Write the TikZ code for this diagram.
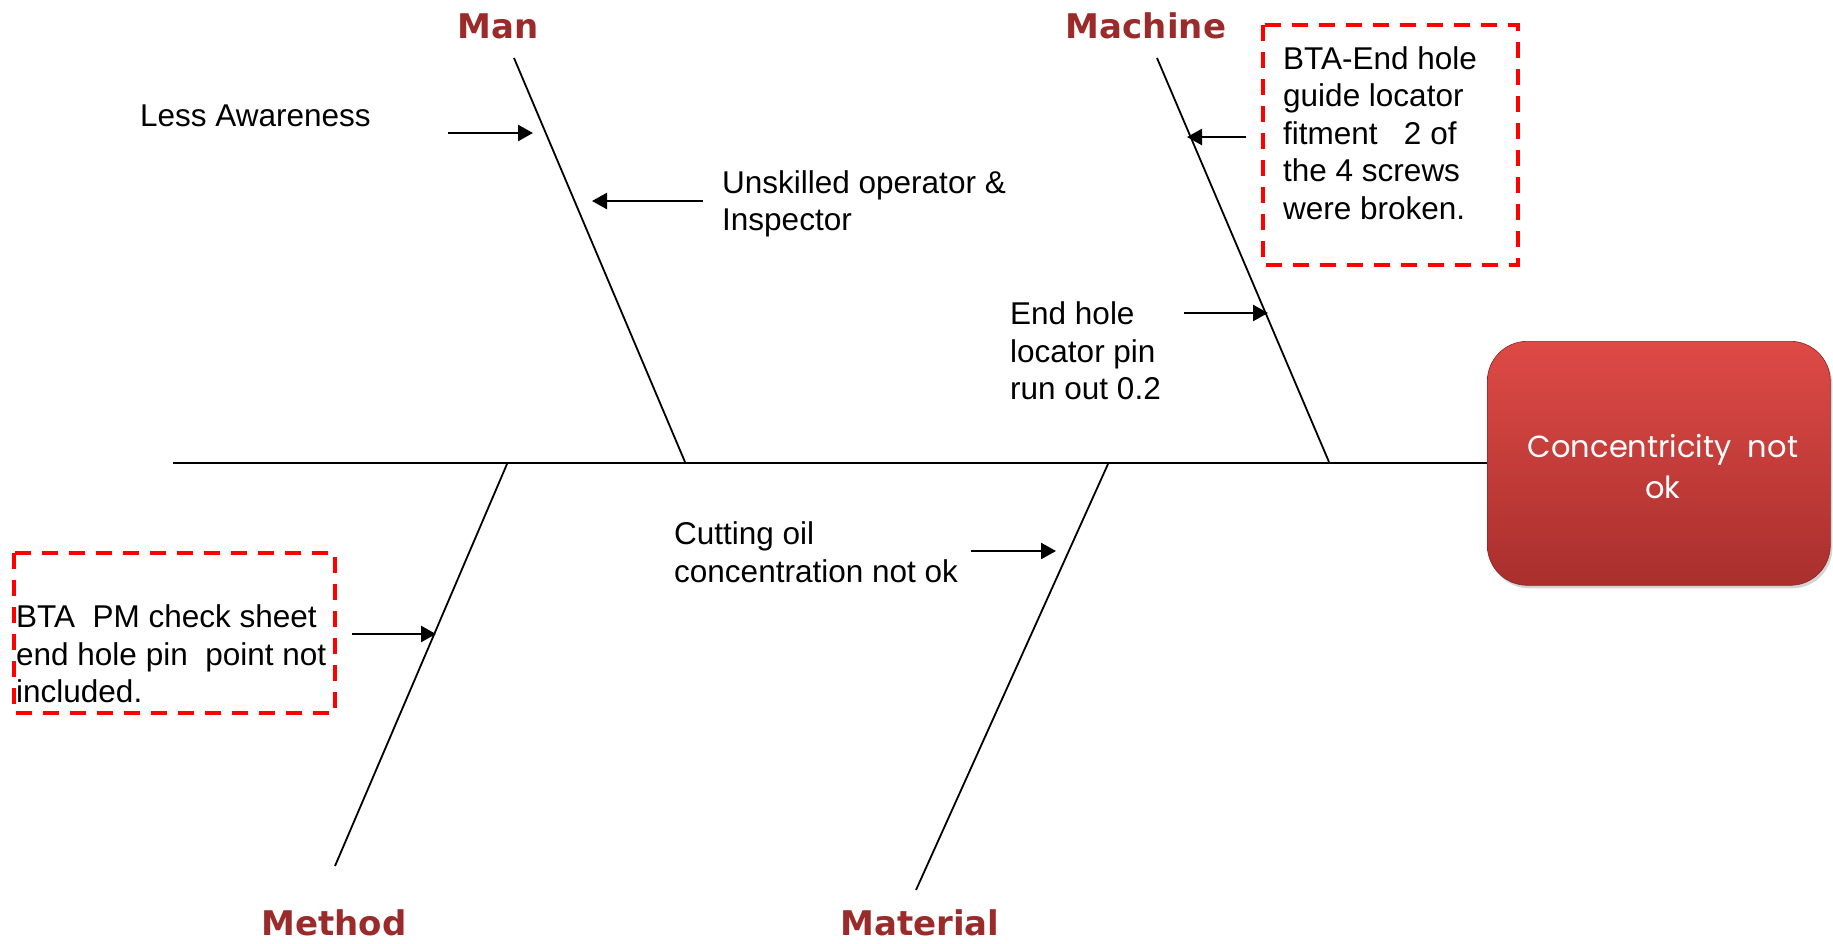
\documentclass[tikz,border=0pt]{standalone}
\usepackage{fontspec}
\setmainfont{Liberation Sans}
\newfontfamily\labfont{DejaVu Sans}
\newfontfamily\effectfont{Poppins}
\usetikzlibrary{arrows.meta,shadows}
\definecolor{catred}{HTML}{9B2B2B}
\definecolor{boxtop}{HTML}{DE4A46}
\definecolor{boxbot}{HTML}{A92F2D}
\definecolor{dashred}{HTML}{FF0000}
\begin{document}
\begin{tikzpicture}[x=1pt,y=-1pt,
  bone/.style={line width=1.8pt,black},
  cause/.style={line width=2.5pt,-{Triangle[length=15pt,width=16pt]}},
  cat/.style={font=\labfont\bfseries\fontsize{34}{40}\selectfont,text=catred,inner sep=0pt},
  txt/.style={font=\fontsize{31.5}{37.5}\selectfont,align=left,anchor=west,inner sep=0pt},
  dbox/.style={draw=dashred,line width=3.6pt,dash pattern=on 16pt off 11pt}]
\useasboundingbox (0,0) rectangle (1833,943);
% effect box
\node[rounded corners=40pt,minimum width=343pt,minimum height=244pt,inner sep=0pt,
  top color=boxtop,bottom color=boxbot,draw=boxbot!80!black,line width=0.6pt,
  drop shadow={shadow xshift=2pt,shadow yshift=-3pt,opacity=0.35},
  anchor=north west] (effect) at (1487,341) {};
\node[font=\effectfont\fontsize{30.5}{41}\selectfont,text=white,align=center,inner sep=0pt]
  (effecttxt) at (1663,467) {Concentricity\ \ not\\ok};
% spine
\coordinate (tail) at (173,463);
\draw[bone] (tail) -- (effect.west |- tail);
% bones
\coordinate (manT) at (514,58);   \coordinate (manB) at (685,462);
\coordinate (macT) at (1157,58);  \coordinate (macB) at (1329,462);
\coordinate (metB) at (335,866);  \coordinate (metT) at (507,464);
\coordinate (matB) at (916,890);  \coordinate (matT) at (1108,464);
\draw[bone] (manT) -- (manB);
\draw[bone] (macT) -- (macB);
\draw[bone] (metB) -- (metT);
\draw[bone] (matB) -- (matT);
% category labels
\node[cat] (man) at (498,26) {Man};
\node[cat] (machine) at (1146,26) {Machine};
\node[cat] (method) at (334,923) {Method};
\node[cat] (material) at (920,923) {Material};
% causes
\node[txt] (less) at (140,116) {Less Awareness};
\coordinate (a1s) at (448,133); \coordinate (a1e) at (533,133);
\draw[cause] (a1s) -- (a1e);
\node[txt] (unsk) at (722,204) {Unskilled operator \&\\Inspector};
\coordinate (a2s) at (703,201); \coordinate (a2e) at (592,201);
\draw[cause] (a2s) -- (a2e);
\draw[dbox] (1263,25) rectangle (1518,265);
\node[txt] (bta1) at (1283,133) {BTA-End hole\\guide locator\\fitment\ \ \ 2 of\\the 4 screws\\were broken.};
\coordinate (a3s) at (1246,137); \coordinate (a3e) at (1187,137);
\draw[cause] (a3s) -- (a3e);
\node[txt] (endhole) at (1010,351) {End hole\\locator pin\\run out 0.2};
\coordinate (a4s) at (1184,313); \coordinate (a4e) at (1268,313);
\draw[cause] (a4s) -- (a4e);
\node[txt] (oil) at (674,552) {Cutting oil\\concentration not ok};
\coordinate (a5s) at (971,551); \coordinate (a5e) at (1056,551);
\draw[cause] (a5s) -- (a5e);
\draw[dbox] (14,553) rectangle (335,713);
\node[txt] (bta2) at (16,654) {BTA\ \ PM check sheet\\end hole pin\ \ point not\\included.};
\coordinate (a6s) at (352,634); \coordinate (a6e) at (436,634);
\draw[cause] (a6s) -- (a6e);
\end{tikzpicture}
\end{document}
